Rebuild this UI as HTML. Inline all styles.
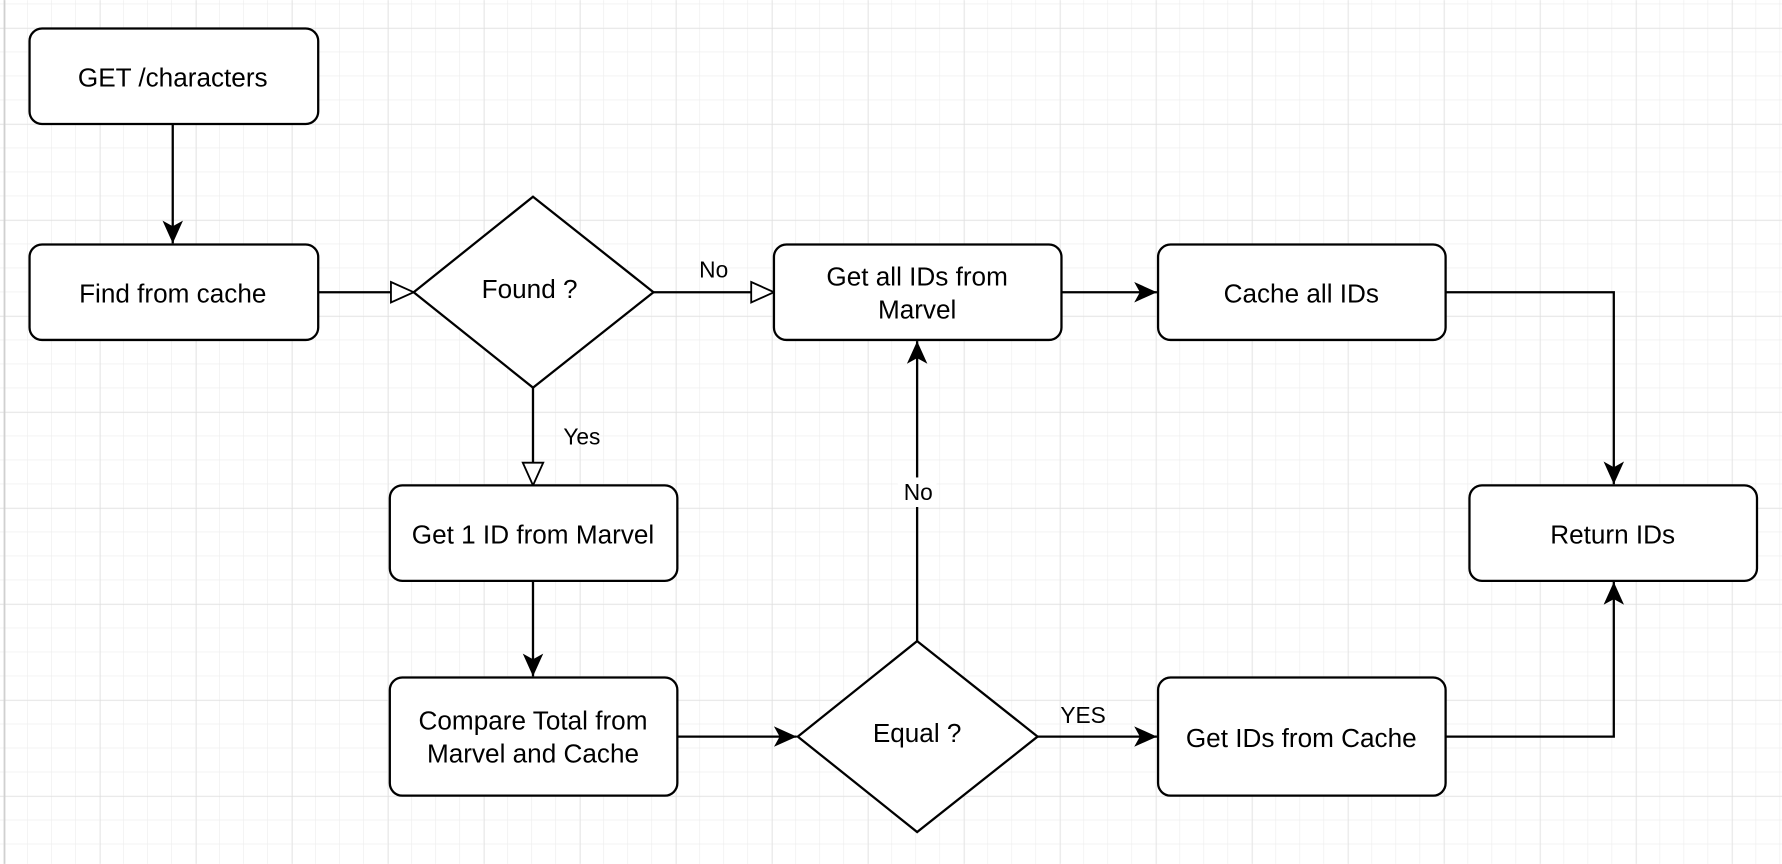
<!DOCTYPE html>
<html><head><style>
html,body{margin:0;padding:0;background:#fff;}
svg{display:block;}
text{font-family:"Liberation Sans",Arial,sans-serif;font-size:23px;fill:#000;}
</style></head><body>
<svg width="1782" height="864" viewBox="0 0 1568 760" xmlns="http://www.w3.org/2000/svg">
<defs>
<pattern id="minor" x="3.5" y="3.6" width="21.12" height="21.12" patternUnits="userSpaceOnUse">
<path d="M21.12 0V21.12M0 21.12H21.12" stroke="#ececec" stroke-width="1" fill="none"/>
</pattern>
<pattern id="major" x="3.5" y="24.6" width="84.48" height="84.48" patternUnits="userSpaceOnUse">
<path d="M0 0V84.48M0 0H84.48" stroke="#dedede" stroke-width="1" fill="none"/>
</pattern>
<marker id="fa" viewBox="0 0 22 22" refX="20" refY="11" markerWidth="22" markerHeight="22" markerUnits="userSpaceOnUse" orient="auto">
<path d="M0 2L20 11L0 20L5 11Z" fill="#000"/>
</marker>
<marker id="oa" viewBox="0 0 24 22" refX="22" refY="11" markerWidth="24" markerHeight="22" markerUnits="userSpaceOnUse" orient="auto">
<path d="M2 2L22 11L2 20Z" fill="#fff" stroke="#000" stroke-width="1.6"/>
</marker>
</defs>
<rect width="1568" height="760" fill="#fff"/>
<rect width="1568" height="760" fill="url(#minor)"/>
<rect width="1568" height="760" fill="url(#major)"/>
<line x1="4" y1="0" x2="4" y2="760" stroke="#d0d0d0" stroke-width="1.5"/>

<g stroke="#000" stroke-width="2" fill="none">
<path d="M152 109V214" marker-end="url(#fa)"/>
<path d="M280 257H364" marker-end="url(#oa)"/>
<path d="M575 257H681" marker-end="url(#oa)"/>
<path d="M934 257H1018" marker-end="url(#fa)"/>
<path d="M1272 257H1420V426" marker-end="url(#fa)"/>
<path d="M469 341V427" marker-end="url(#oa)"/>
<path d="M469 511V595" marker-end="url(#fa)"/>
<path d="M596 648H701" marker-end="url(#fa)"/>
<path d="M807 564V300" marker-end="url(#fa)"/>
<path d="M913 648H1018" marker-end="url(#fa)"/>
<path d="M1272 648H1420V512" marker-end="url(#fa)"/>
</g>

<g stroke="#000" stroke-width="2" fill="#fff">
<rect x="26" y="25" width="254" height="84" rx="11"/>
<rect x="26" y="215" width="254" height="84" rx="11"/>
<path d="M469 173L575 257L469 341L364 257Z"/>
<rect x="681" y="215" width="253" height="84" rx="11"/>
<rect x="1019" y="215" width="253" height="84" rx="11"/>
<rect x="1293" y="427" width="253" height="84" rx="11"/>
<rect x="343" y="427" width="253" height="84" rx="11"/>
<rect x="343" y="596" width="253" height="104" rx="11"/>
<path d="M807 564L913 648L807 732L702 648Z"/>
<rect x="1019" y="596" width="253" height="104" rx="11"/>
</g>
<rect x="790" y="420" width="34" height="26" fill="#fff"/>

<g text-anchor="middle">
<text x="152" y="76">GET /characters</text>
<text x="152" y="266">Find from cache</text>
<text x="466" y="262">Found ?</text>
<text x="807" y="251">Get all IDs from</text>
<text x="807" y="280">Marvel</text>
<text x="1145" y="266">Cache all IDs</text>
<text x="1419" y="478">Return IDs</text>
<text x="469" y="478">Get 1 ID from Marvel</text>
<text x="469" y="642">Compare Total from</text>
<text x="469" y="671">Marvel and Cache</text>
<text x="807" y="653">Equal ?</text>
<text x="1145" y="657">Get IDs from Cache</text>
<text x="628" y="244" style="font-size:20px">No</text>
<text x="512" y="391" style="font-size:20px">Yes</text>
<text x="808" y="440" style="font-size:20px">No</text>
<text x="953" y="636" style="font-size:20px">YES</text>
</g>
</svg>
</body></html>
